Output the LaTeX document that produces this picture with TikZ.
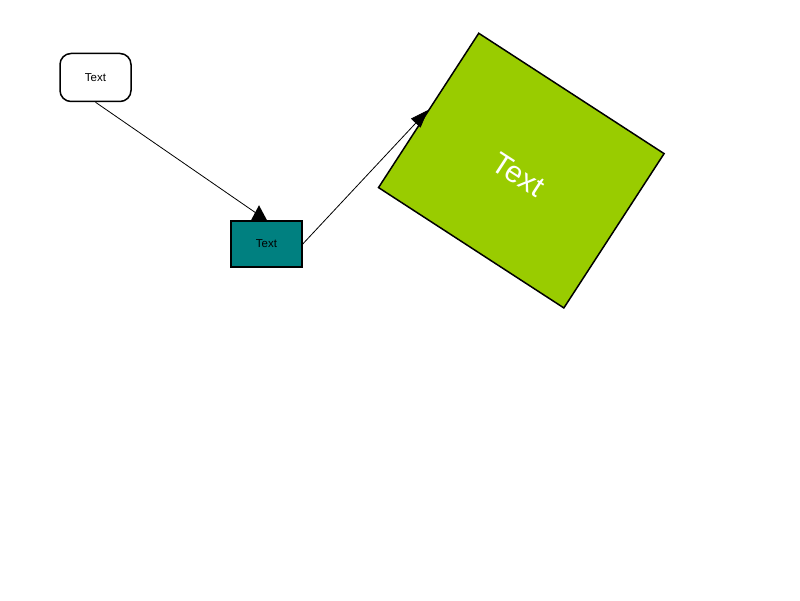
\documentclass[tikz,border=0pt]{standalone}
\usepackage{fontspec}
\setmainfont{Liberation Sans}
\usetikzlibrary{arrows.meta,calc}
\definecolor{tealbox}{HTML}{008080}
\definecolor{limebox}{HTML}{99CC00}
\begin{document}
\begin{tikzpicture}[x=1pt,y=1pt,
	startbox/.style={draw=black, line width=1.5pt, fill=white, rounded corners=11pt, minimum width=71pt, minimum height=48pt, font=\fontsize{11.5}{13}\selectfont},
	tealnode/.style={draw=black, line width=1.5pt, fill=tealbox, minimum width=71pt, minimum height=46pt, font=\fontsize{11.5}{13}\selectfont},
	bignode/.style={draw=black, line width=1.5pt, fill=limebox, minimum width=221pt, minimum height=184pt, rotate=-33, text=white, text height=31pt, font=\fontsize{30}{34}\selectfont},
	link/.style={draw=black, line width=0.8pt}]
	\useasboundingbox (0,0) rectangle (800,600);
	\node[startbox] (start) at (95.5,522.5) {Text};
	\node[tealnode] (mid) at (266.5,356) {Text};
	\node[bignode] (big) at (521.3,429.4) {Text};
	\draw[link] (start.south) -- (mid.north);
	\fill ($(mid.north)+(-7.5,15)$) -- ($(mid.north)+(-15.5,0)$) -- ($(mid.north)+(0.5,0)$) -- cycle;
	\draw[link, -{Triangle[length=18pt,width=13pt]}] (mid.east) -- (big.west);
\end{tikzpicture}
\end{document}
